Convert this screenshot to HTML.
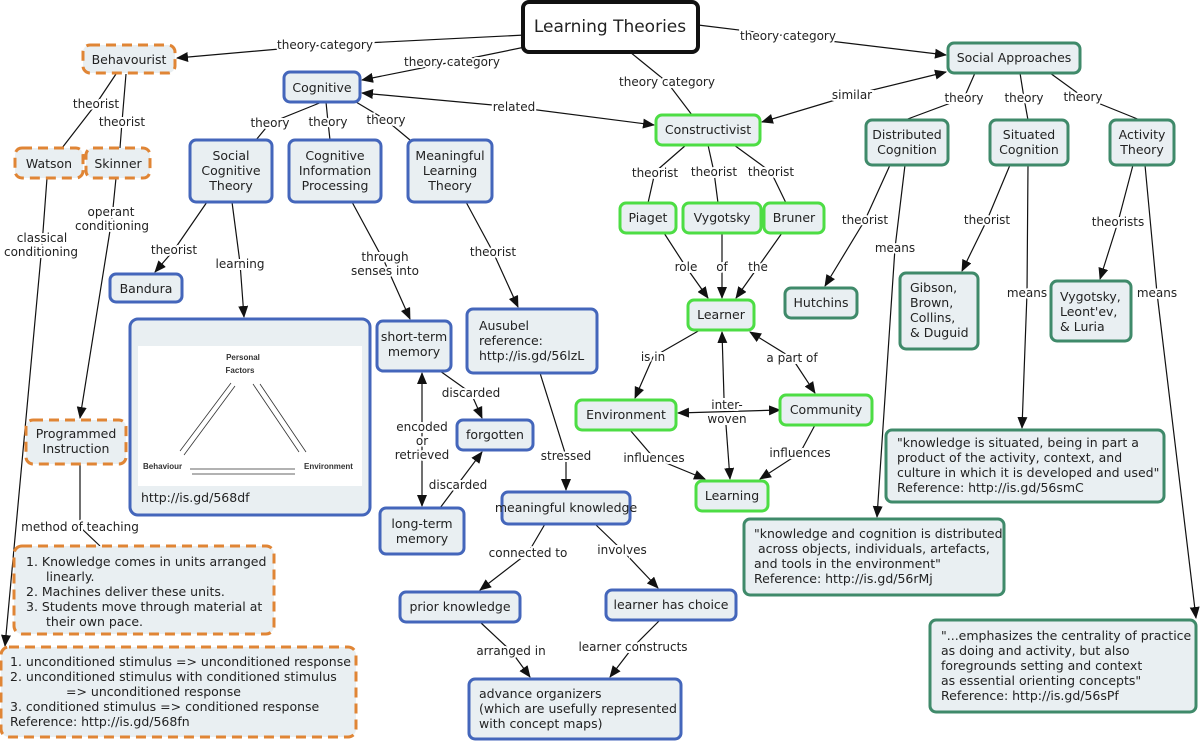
<!DOCTYPE html>
<html><head><meta charset="utf-8"><style>
html,body{margin:0;padding:0;background:#fff;}
svg{display:block;font-family:"DejaVu Sans","Liberation Sans",sans-serif;}
.l{stroke:#111;stroke-width:1.2;fill:none;}
.a{marker-end:url(#ah);}
.s{marker-start:url(#ahs);}
.lb{font-size:12px;fill:#222;text-anchor:middle;stroke:#fff;stroke-width:4px;paint-order:stroke;}
.t{font-size:12.5px;fill:#222;text-anchor:middle;}
.tl{font-size:12.5px;fill:#222;}
.b{fill:#e9eff2;stroke:#4466bb;stroke-width:3;}
.g{fill:#e9eff2;stroke:#4ddd44;stroke-width:3;}
.tg{fill:#e9eff2;stroke:#3f8a6a;stroke-width:3;}
.o{fill:#e9eff2;stroke:#e08535;stroke-width:3;stroke-dasharray:10 6;}
</style></head><body>
<svg width="1200" height="742" viewBox="0 0 1200 742" xmlns="http://www.w3.org/2000/svg">
<defs>
<marker id="ah" markerWidth="12" markerHeight="10" refX="11" refY="5" orient="auto" markerUnits="userSpaceOnUse"><path d="M0,0 L12,5 L0,10 z" fill="#111"/></marker>
<marker id="ahs" markerWidth="12" markerHeight="10" refX="1" refY="5" orient="auto" markerUnits="userSpaceOnUse"><path d="M12,0 L0,5 L12,10 z" fill="#111"/></marker>
</defs>
<!-- edges -->
<polyline class="l a" points="525,35 325,45 177,58"/>
<polyline class="l a" points="535,45 452,62 362,80"/>
<polyline class="l a" points="698,25 788,36 946,55"/>
<polyline class="l" points="630,52 667,82 692,115"/>
<polyline class="l a s" points="362,93 514,107 654,125"/>
<polyline class="l a s" points="762,122 852,95 946,72"/>
<polyline class="l" points="975,73 964,98 905,120"/>
<polyline class="l" points="1020,73 1024,98 1028,120"/>
<polyline class="l" points="1050,73 1083,97 1140,120"/>
<polyline class="l" points="116,74 96,104 62,148"/>
<polyline class="l" points="126,74 122,122 120,148"/>
<polyline class="l" points="322,102 270,123 256,140"/>
<polyline class="l" points="326,102 328,122 330,140"/>
<polyline class="l" points="356,102 386,120 410,140"/>
<polyline class="l a" points="47,178 42,245 5,646"/>
<polyline class="l a" points="116,178 112,218 80,418"/>
<polyline class="l a" points="207,202 174,250 155,272"/>
<polyline class="l a" points="232,202 240,263 244,317"/>
<polyline class="l a" points="352,202 385,263 410,319"/>
<polyline class="l a" points="466,202 493,252 518,307"/>
<polyline class="l a" points="540,373 566,456 566,490"/>
<polyline class="l a s" points="422,373 422,506"/>
<polyline class="l a" points="440,371 471,393 482,418"/>
<polyline class="l a" points="440,508 458,484 482,452"/>
<polyline class="l" points="686,145 655,172 648,203"/>
<polyline class="l" points="708,145 714,172 718,203"/>
<polyline class="l" points="734,145 771,172 786,203"/>
<polyline class="l a" points="664,233 686,267 708,298"/>
<polyline class="l a" points="722,233 722,298"/>
<polyline class="l a" points="782,233 758,267 736,298"/>
<polyline class="l a" points="700,330 653,357 635,398"/>
<polyline class="l a s" points="750,332 792,358 815,393"/>
<polyline class="l a s" points="678,413 780,410"/>
<polyline class="l a" points="724,398 722,332"/>
<polyline class="l a" points="726,425 730,479"/>
<polyline class="l a" points="630,430 654,458 705,479"/>
<polyline class="l a" points="815,425 800,453 760,479"/>
<polyline class="l a" points="890,165 865,220 825,286"/>
<polyline class="l a" points="905,165 895,248 877,517"/>
<polyline class="l a" points="1010,165 987,220 962,271"/>
<polyline class="l a" points="1028,165 1027,293 1022,428"/>
<polyline class="l a" points="1133,165 1118,222 1100,279"/>
<polyline class="l a" points="1145,165 1157,293 1196,618"/>
<polyline class="l" points="80,464 80,527 100,546"/>
<polyline class="l a" points="545,524 528,553 480,590"/>
<polyline class="l a" points="595,524 622,550 658,588"/>
<polyline class="l a" points="480,622 511,651 530,677"/>
<polyline class="l a" points="660,620 633,647 610,677"/>
<!-- labels -->
<text class="lb" x="325" y="49">theory category</text>
<text class="lb" x="452" y="66">theory category</text>
<text class="lb" x="788" y="40">theory category</text>
<text class="lb" x="667" y="86">theory category</text>
<text class="lb" x="514" y="111">related</text>
<text class="lb" x="852" y="99">similar</text>
<text class="lb" x="964" y="102">theory</text>
<text class="lb" x="1024" y="102">theory</text>
<text class="lb" x="1083" y="101">theory</text>
<text class="lb" x="96" y="108">theorist</text>
<text class="lb" x="122" y="126">theorist</text>
<text class="lb" x="270" y="127">theory</text>
<text class="lb" x="328" y="126">theory</text>
<text class="lb" x="386" y="124">theory</text>
<text class="lb" x="42" y="242">classical</text>
<text class="lb" x="41" y="256">conditioning</text>
<text class="lb" x="111" y="216">operant</text>
<text class="lb" x="112" y="230">conditioning</text>
<text class="lb" x="174" y="254">theorist</text>
<text class="lb" x="240" y="268">learning</text>
<text class="lb" x="385" y="261">through</text>
<text class="lb" x="385" y="275">senses into</text>
<text class="lb" x="493" y="256">theorist</text>
<text class="lb" x="566" y="460">stressed</text>
<text class="lb" x="422" y="431">encoded</text>
<text class="lb" x="422" y="445">or</text>
<text class="lb" x="422" y="459">retrieved</text>
<text class="lb" x="471" y="397">discarded</text>
<text class="lb" x="458" y="489">discarded</text>
<text class="lb" x="655" y="177">theorist</text>
<text class="lb" x="714" y="176">theorist</text>
<text class="lb" x="771" y="176">theorist</text>
<text class="lb" x="686" y="271">role</text>
<text class="lb" x="722" y="271">of</text>
<text class="lb" x="758" y="271">the</text>
<text class="lb" x="653" y="361">is in</text>
<text class="lb" x="792" y="362">a part of</text>
<text class="lb" x="727" y="409">inter-</text>
<text class="lb" x="727" y="423">woven</text>
<text class="lb" x="654" y="462">influences</text>
<text class="lb" x="800" y="457">influences</text>
<text class="lb" x="865" y="224">theorist</text>
<text class="lb" x="895" y="252">means</text>
<text class="lb" x="987" y="224">theorist</text>
<text class="lb" x="1027" y="297">means</text>
<text class="lb" x="1118" y="226">theorists</text>
<text class="lb" x="1157" y="297">means</text>
<text class="lb" x="80" y="531">method of teaching</text>
<text class="lb" x="528" y="557">connected to</text>
<text class="lb" x="622" y="554">involves</text>
<text class="lb" x="511" y="655">arranged in</text>
<text class="lb" x="633" y="651">learner constructs</text>
<!-- nodes -->
<rect x="523" y="2" width="175" height="50" rx="6" fill="#fff" stroke="#111" stroke-width="4"/>
<text class="t" x="610" y="32" style="font-size:17px">Learning Theories</text>
<rect class="o" x="83" y="45" width="92" height="28" rx="7"/><text class="t" x="129" y="64">Behavourist</text>
<rect class="b" x="284" y="72" width="76" height="30" rx="6"/><text class="t" x="322" y="92">Cognitive</text>
<rect class="tg" x="948" y="43" width="132" height="30" rx="6"/><text class="t" x="1014" y="62">Social Approaches</text>
<rect class="g" x="656" y="115" width="104" height="30" rx="6"/><text class="t" x="708" y="134">Constructivist</text>
<rect class="o" x="15" y="148" width="68" height="30" rx="7"/><text class="t" x="49" y="168">Watson</text>
<rect class="o" x="86" y="148" width="64" height="30" rx="7"/><text class="t" x="118" y="168">Skinner</text>
<rect class="b" x="190" y="140" width="82" height="62" rx="6"/><text class="t" x="231" y="160">Social<tspan x="231" dy="15">Cognitive</tspan><tspan x="231" dy="15">Theory</tspan></text>
<rect class="b" x="289" y="140" width="92" height="62" rx="6"/><text class="t" x="335" y="160">Cognitive<tspan x="335" dy="15">Information</tspan><tspan x="335" dy="15">Processing</tspan></text>
<rect class="b" x="408" y="140" width="84" height="62" rx="6"/><text class="t" x="450" y="160">Meaningful<tspan x="450" dy="15">Learning</tspan><tspan x="450" dy="15">Theory</tspan></text>
<rect class="tg" x="866" y="120" width="82" height="45" rx="6"/><text class="t" x="907" y="139">Distributed<tspan x="907" dy="15">Cognition</tspan></text>
<rect class="tg" x="990" y="120" width="78" height="45" rx="6"/><text class="t" x="1029" y="139">Situated<tspan x="1029" dy="15">Cognition</tspan></text>
<rect class="tg" x="1110" y="120" width="64" height="45" rx="6"/><text class="t" x="1142" y="139">Activity<tspan x="1142" dy="15">Theory</tspan></text>
<rect class="g" x="620" y="203" width="56" height="30" rx="6"/><text class="t" x="648" y="222">Piaget</text>
<rect class="g" x="683" y="203" width="78" height="30" rx="6"/><text class="t" x="722" y="222">Vygotsky</text>
<rect class="g" x="764" y="203" width="60" height="30" rx="6"/><text class="t" x="794" y="222">Bruner</text>
<rect class="b" x="110" y="274" width="72" height="28" rx="6"/><text class="t" x="146" y="293">Bandura</text>
<rect class="tg" x="785" y="288" width="72" height="30" rx="6"/><text class="t" x="821" y="307">Hutchins</text>
<rect class="tg" x="900" y="273" width="78" height="76" rx="6"/><text class="tl" x="910" y="292">Gibson,<tspan x="910" dy="15">Brown,</tspan><tspan x="910" dy="15">Collins,</tspan><tspan x="910" dy="15">&amp; Duguid</tspan></text>
<rect class="tg" x="1051" y="281" width="80" height="60" rx="6"/><text class="tl" x="1060" y="301">Vygotsky,<tspan x="1060" dy="15">Leont'ev,</tspan><tspan x="1060" dy="15">&amp; Luria</tspan></text>
<rect class="g" x="688" y="300" width="66" height="30" rx="6"/><text class="t" x="721" y="319">Learner</text>
<rect class="b" x="130" y="319" width="240" height="196" rx="8"/>
<rect x="138" y="346" width="224" height="140" fill="#fff"/>
<text x="243" y="360" style="font-size:8px;font-family:'Liberation Sans',sans-serif;font-weight:bold" text-anchor="middle" fill="#333">Personal</text>
<text x="240" y="373" style="font-size:8px;font-family:'Liberation Sans',sans-serif;font-weight:bold" text-anchor="middle" fill="#333">Factors</text>
<text x="143" y="469" style="font-size:8px;font-family:'Liberation Sans',sans-serif;font-weight:bold" fill="#333">Behaviour</text>
<text x="304" y="469" style="font-size:8px;font-family:'Liberation Sans',sans-serif;font-weight:bold" fill="#333">Environment</text>
<g stroke="#333" stroke-width="0.8" fill="none">
<line x1="231" y1="383" x2="180" y2="451"/><line x1="184" y1="455" x2="235" y2="386"/>
<line x1="253" y1="384" x2="299" y2="452"/><line x1="306" y1="452" x2="260" y2="384"/>
<line x1="190" y1="469" x2="295" y2="469"/><line x1="295" y1="474" x2="192" y2="474"/>
</g>
<text class="tl" x="141" y="502">http://is.gd/568df</text>
<rect class="b" x="377" y="321" width="74" height="50" rx="6"/><text class="t" x="414" y="341">short-term<tspan x="414" dy="15">memory</tspan></text>
<rect class="b" x="467" y="309" width="130" height="64" rx="6"/><text class="tl" x="479" y="330">Ausubel<tspan x="479" dy="15">reference:</tspan><tspan x="479" dy="15">http://is.gd/56lzL</tspan></text>
<rect class="b" x="457" y="420" width="76" height="30" rx="6"/><text class="t" x="495" y="439">forgotten</text>
<rect class="g" x="576" y="400" width="100" height="30" rx="6"/><text class="t" x="626" y="419">Environment</text>
<rect class="g" x="780" y="395" width="92" height="30" rx="6"/><text class="t" x="826" y="414">Community</text>
<rect class="o" x="26" y="420" width="100" height="44" rx="7"/><text class="t" x="76" y="438">Programmed<tspan x="76" dy="15">Instruction</tspan></text>
<rect class="b" x="380" y="508" width="84" height="46" rx="6"/><text class="t" x="422" y="528">long-term<tspan x="422" dy="15">memory</tspan></text>
<rect class="b" x="502" y="492" width="128" height="32" rx="6"/><text class="t" x="566" y="512">meaningful knowledge</text>
<rect class="g" x="696" y="481" width="72" height="30" rx="6"/><text class="t" x="732" y="500">Learning</text>
<rect class="tg" x="886" y="430" width="278" height="72" rx="6"/><text class="tl" x="897" y="447">"knowledge is situated, being in part a<tspan x="897" dy="15">product of the activity, context, and</tspan><tspan x="897" dy="15">culture in which it is developed and used"</tspan><tspan x="897" dy="15">Reference: http://is.gd/56smC</tspan></text>
<rect class="tg" x="744" y="519" width="260" height="76" rx="6"/><text class="tl" x="754" y="538">"knowledge and cognition is distributed<tspan x="754" dy="15"> across objects, individuals, artefacts,</tspan><tspan x="754" dy="15">and tools in the environment"</tspan><tspan x="754" dy="15">Reference:  http://is.gd/56rMj</tspan></text>
<rect class="o" x="14" y="546" width="260" height="88" rx="8"/><text class="tl" x="26" y="566">1.  Knowledge comes in units arranged<tspan x="46" dy="15">linearly.</tspan><tspan x="26" dy="15">2.  Machines deliver these units.</tspan><tspan x="26" dy="15">3.  Students move through material at</tspan><tspan x="46" dy="15">their own pace.</tspan></text>
<rect class="b" x="400" y="592" width="120" height="30" rx="6"/><text class="t" x="460" y="611">prior knowledge</text>
<rect class="b" x="606" y="590" width="130" height="30" rx="6"/><text class="t" x="671" y="609">learner has choice</text>
<rect class="o" x="1" y="647" width="355" height="90" rx="8"/><text class="tl" x="10" y="666">1.  unconditioned stimulus =&gt; unconditioned response<tspan x="10" dy="15">2.  unconditioned stimulus with conditioned stimulus</tspan><tspan x="66" dy="15">=&gt; unconditioned response</tspan><tspan x="10" dy="15">3.  conditioned stimulus =&gt; conditioned response</tspan><tspan x="10" dy="15">Reference:  http://is.gd/568fn</tspan></text>
<rect class="b" x="469" y="679" width="212" height="60" rx="6"/><text class="tl" x="479" y="698">advance organizers<tspan x="479" dy="15">(which are usefully represented</tspan><tspan x="479" dy="15">with concept maps)</tspan></text>
<rect class="tg" x="930" y="620" width="266" height="92" rx="6"/><text class="tl" x="941" y="640">"...emphasizes the centrality of practice<tspan x="941" dy="15">as doing and activity, but also</tspan><tspan x="941" dy="15">foregrounds setting and context</tspan><tspan x="941" dy="15">as essential orienting concepts"</tspan><tspan x="941" dy="15">Reference: http://is.gd/56sPf</tspan></text>
</svg>
</body></html>
